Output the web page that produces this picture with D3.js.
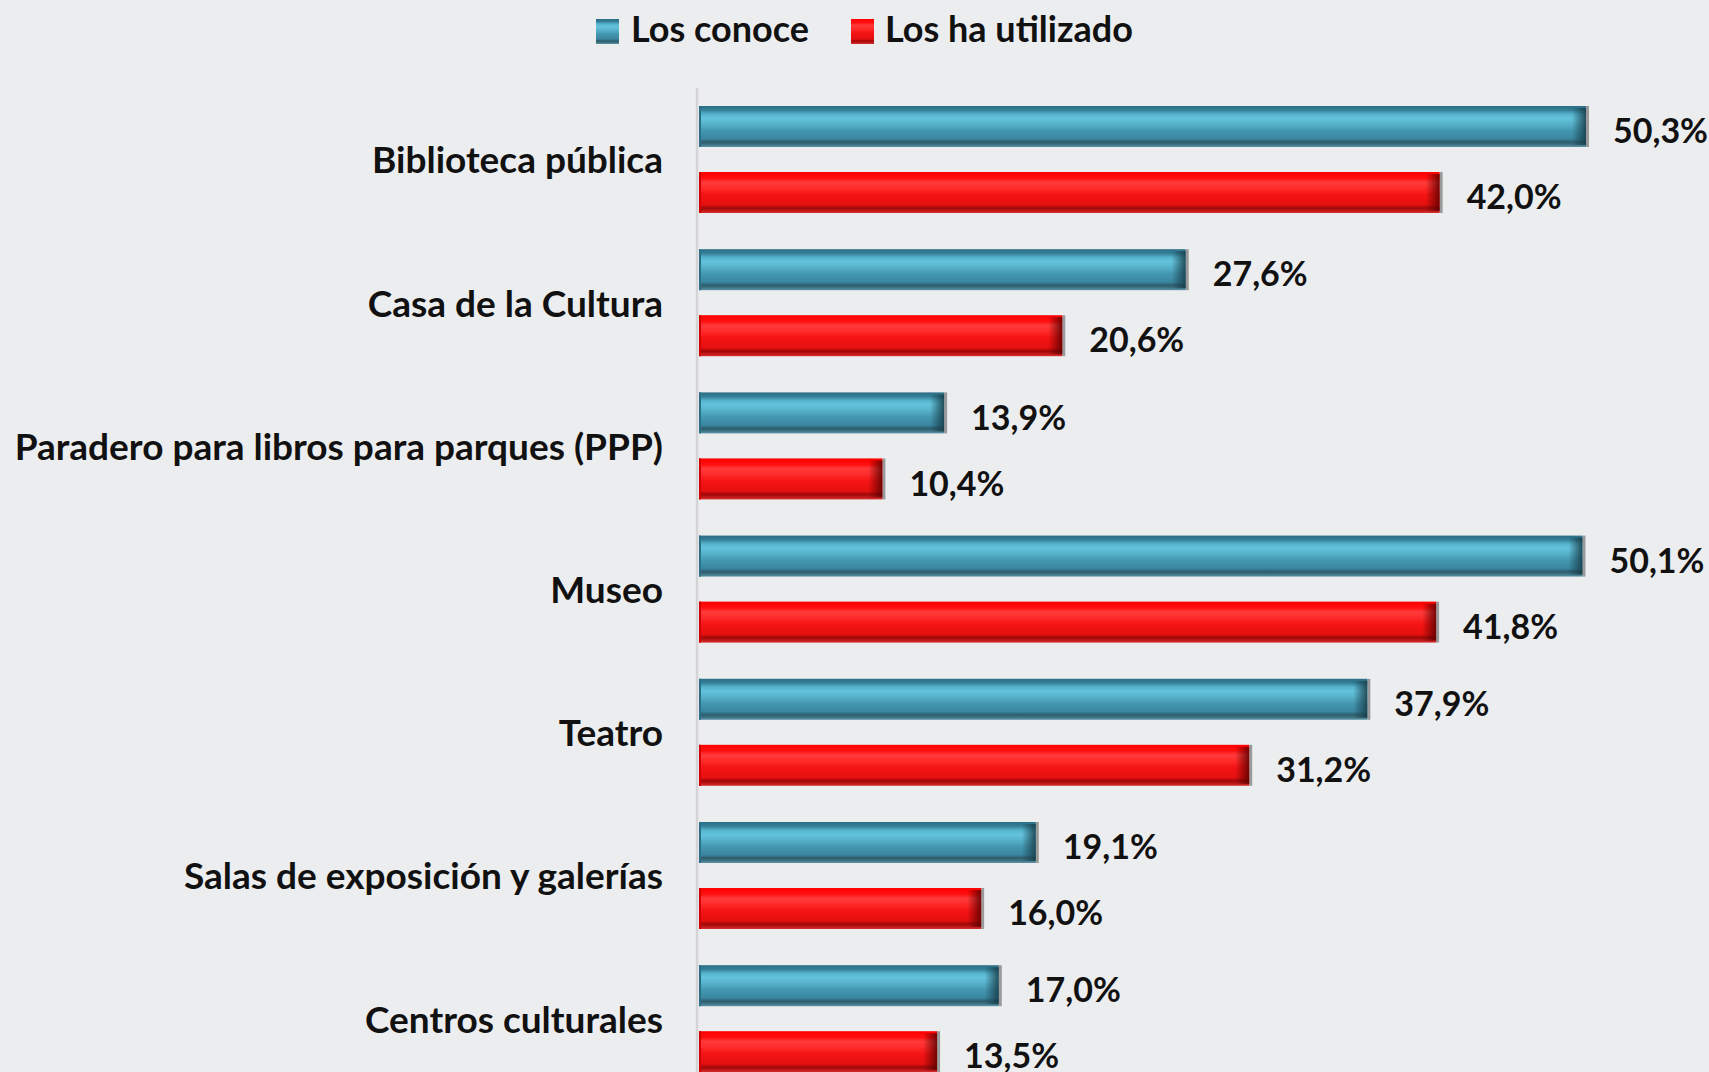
<!DOCTYPE html>
<html><head><meta charset="utf-8">
<script src="https://cdn.jsdelivr.net/npm/d3@7"></script>
<style>
html,body{margin:0;padding:0;background:#ecedef;}
svg{display:block;}
text{font-family:Lato,"Open Sans",sans-serif;font-weight:700;fill:#111;}
</style></head>
<body>
<svg id="chart" width="1709" height="1072"></svg>
<script>
const categories = ["Biblioteca pública","Casa de la Cultura","Paradero para libros para parques (PPP)","Museo","Teatro","Salas de exposición y galerías","Centros culturales"];
const seriesNames = ["Los conoce","Los ha utilizado"];
const conoce = [50.3, 27.6, 13.9, 50.1, 37.9, 19.1, 17.0];
const utilizado = [42.0, 20.6, 10.4, 41.8, 31.2, 16.0, 13.5];

const W = 1709, H = 1072;
const svg = d3.select("#chart");
const locale = d3.formatLocale({decimal:",", thousands:".", grouping:[3], currency:["","€"]});
const fmt = v => locale.format(".1f")(v) + "%";

const x0 = 699;
const x = d3.scaleLinear().domain([0, 50.3]).range([x0, 1586]);
const y0 = d3.scaleBand().domain(categories).range([106, 106 + 7*143.2]).padding(0);
const y1 = d3.scaleBand().domain(seriesNames).range([0, 107]).paddingInner(0.379).paddingOuter(0);

const defs = svg.append("defs");
function vgrad(id, stops){
  const g = defs.append("linearGradient").attr("id", id).attr("x1",0).attr("y1",0).attr("x2",0).attr("y2",1);
  stops.forEach(s => g.append("stop").attr("offset", s[0]).attr("stop-color", s[1]));
}
vgrad("gBlue", [[0,"#2a6e85"],[0.1,"#347f97"],[0.2,"#55b3cc"],[0.3,"#64c3dc"],[0.45,"#56b0c9"],[0.6,"#4497b0"],[0.8,"#3a86a0"],[0.88,"#2d5c6c"],[0.94,"#3f7384"],[1,"#5b95a6"]]);
vgrad("gRed", [[0,"#ff0000"],[0.15,"#ff1010"],[0.25,"#ff3a3a"],[0.4,"#ff2a2a"],[0.55,"#f51414"],[0.8,"#e51010"],[0.88,"#9e0808"],[0.94,"#c01818"],[1,"#d83030"]]);
function hgrad(id, c){
  const g = defs.append("linearGradient").attr("id", id).attr("x1",0).attr("y1",0).attr("x2",1).attr("y2",0);
  g.append("stop").attr("offset",0).attr("stop-color",c).attr("stop-opacity",0);
  g.append("stop").attr("offset",1).attr("stop-color",c).attr("stop-opacity",0.85);
}
hgrad("eBlue","#163a46");
hgrad("eRed","#5a0000");

// axis line
svg.append("line").attr("x1",697).attr("x2",697).attr("y1",88).attr("y2",H)
  .attr("stroke","#d4d4d6").attr("stroke-width",2.5);

const series = [
  {name: seriesNames[0], values: conoce, fill:"url(#gBlue)", edge:"url(#eBlue)", left:"#2a6f86"},
  {name: seriesNames[1], values: utilizado, fill:"url(#gRed)", edge:"url(#eRed)", left:"#d00000"}
];

const gCat = svg.append("g");
categories.forEach((c, i) => {
  const gy = y0(c);
  series.forEach(s => {
    const v = s.values[i];
    const yy = gy + y1(s.name), bh = y1.bandwidth(), bw = x(v) - x0;
    const g = gCat.append("g");
    g.append("rect").attr("x", x(v)).attr("y", yy).attr("width", 3).attr("height", bh).attr("fill", "#9a9a9a");
    g.append("rect").attr("x", x0).attr("y", yy).attr("width", bw).attr("height", bh).attr("fill", s.fill);
    g.append("rect").attr("x", x(v) - 14).attr("y", yy + 2).attr("width", 14).attr("height", bh - 4).attr("fill", s.edge);
    g.append("rect").attr("x", x0).attr("y", yy).attr("width", 2).attr("height", bh).attr("fill", s.left);
    g.append("text").attr("x", x(v) + 27).attr("y", yy + bh/2 + 8).attr("dominant-baseline","middle")
      .style("font-size","34px").text(fmt(v));
  });
  gCat.append("text").attr("x", 663).attr("y", gy + 58).attr("text-anchor","end").attr("dominant-baseline","middle")
    .style("font-size","37px").text(c);
});

// legend
const leg = [{name:seriesNames[0], fill:"url(#gBlue)", x:596, tx:631},{name:seriesNames[1], fill:"url(#gRed)", x:851, tx:885}];
leg.forEach(l => {
  svg.append("rect").attr("x", l.x).attr("y", 19).attr("width", 23).attr("height", 25).attr("fill", l.fill);
  svg.append("text").attr("x", l.tx).attr("y", 33).attr("dominant-baseline","middle").style("font-size","36px").text(l.name);
});
</script>
</body></html>
